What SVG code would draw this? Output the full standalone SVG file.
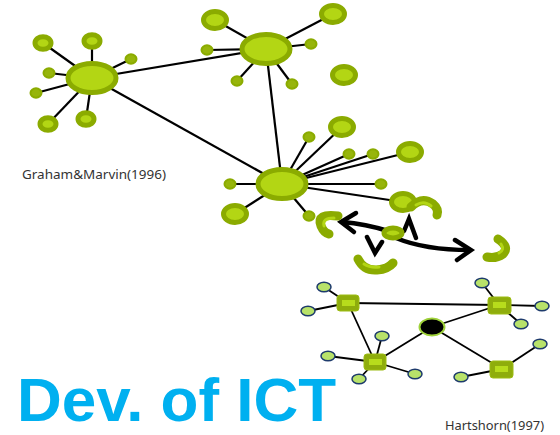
<svg xmlns="http://www.w3.org/2000/svg" width="560" height="435" viewBox="0 0 560 435">
  <defs>
    <style>
      .edge { stroke: #000; stroke-width: 2.2; fill: none; }
      .hedge { stroke: #000; stroke-width: 1.8; fill: none; }
      .hub { fill: #b3d614; stroke: #8bab00; stroke-width: 5; }
      .ring { fill: #b3d614; stroke: #8bab00; stroke-width: 5; }
      .dot { fill: #97b50b; stroke: #8bab00; stroke-width: 2; }
      .arc-o { fill: none; stroke: #8bab00; stroke-width: 9; stroke-linecap: round; stroke-linejoin: round; }
      .arc-i { fill: none; stroke: #b3d614; stroke-width: 3; stroke-linecap: round; }
      .jump { fill: none; stroke: #000; stroke-width: 4.5; stroke-linecap: round; stroke-linejoin: miter; }
      .sq { fill: #8fad0c; stroke: #9cbc12; stroke-width: 1; }
      .sq-in { fill: #b7dc1c; }
      .leaf { fill: #b8e26a; stroke: #1d3a6c; stroke-width: 1.5; }
      .core { fill: #000; stroke: #9fd23a; stroke-width: 2; }
      .cap { font-family: "Noto Sans", "Open Sans", sans-serif; font-size: 12.5px; fill: #333; }
      .title { font-family: "Liberation Sans", Arial, sans-serif; font-weight: bold; font-size: 62px; fill: #00b0f0; }
    </style>
  </defs>

  <!-- connectors -->
  <g id="connectors">
    <!-- hub to hub -->
    <line class="edge" x1="92" y1="78" x2="266" y2="49"/>
    <line class="edge" x1="92" y1="78" x2="282" y2="184"/>
    <line class="edge" x1="266" y1="49" x2="282" y2="184"/>
    <!-- left hub spokes -->
    <line class="edge" x1="92" y1="78" x2="43" y2="43"/>
    <line class="edge" x1="92" y1="78" x2="92" y2="41"/>
    <line class="edge" x1="92" y1="78" x2="131" y2="59"/>
    <line class="edge" x1="92" y1="78" x2="49" y2="73"/>
    <line class="edge" x1="92" y1="78" x2="36" y2="93"/>
    <line class="edge" x1="92" y1="78" x2="48" y2="124"/>
    <line class="edge" x1="92" y1="78" x2="86" y2="119"/>
    <!-- top hub spokes -->
    <line class="edge" x1="266" y1="49" x2="215" y2="20"/>
    <line class="edge" x1="266" y1="49" x2="333" y2="14"/>
    <line class="edge" x1="266" y1="49" x2="207" y2="50"/>
    <line class="edge" x1="266" y1="49" x2="311" y2="44"/>
    <line class="edge" x1="266" y1="49" x2="237" y2="81"/>
    <line class="edge" x1="266" y1="49" x2="292" y2="84"/>
    <!-- lower hub spokes -->
    <line class="edge" x1="282" y1="184" x2="309" y2="137"/>
    <line class="edge" x1="282" y1="184" x2="342" y2="127"/>
    <line class="edge" x1="282" y1="184" x2="349" y2="154"/>
    <line class="edge" x1="282" y1="184" x2="373" y2="154"/>
    <line class="edge" x1="282" y1="184" x2="410" y2="152"/>
    <line class="edge" x1="282" y1="184" x2="230" y2="184"/>
    <line class="edge" x1="282" y1="184" x2="381" y2="184"/>
    <line class="edge" x1="282" y1="184" x2="235" y2="214"/>
    <line class="edge" x1="282" y1="184" x2="403" y2="202"/>
    <line class="edge" x1="282" y1="184" x2="309" y2="216"/>
    <!-- jumps -->
    <path class="jump" d="M388,231 Q366,224 342,222"/>
    <polyline class="jump" points="356,213 341,222 354,232"/>
    <path class="jump" d="M396,238 Q425,250 470,250"/>
    <polyline class="jump" points="455,240 471,250 457,260"/>
    <polyline class="jump" points="367,237 375,253 382,242"/>
    <polyline class="jump" points="404,231 409,219 416,238"/>
    <!-- hierarchy links -->
    <line class="hedge" x1="348" y1="303" x2="499" y2="305"/>
    <line class="hedge" x1="348" y1="303" x2="375" y2="362"/>
    <line class="hedge" x1="375" y1="362" x2="432" y2="327"/>
    <line class="hedge" x1="432" y1="327" x2="499" y2="305"/>
    <line class="hedge" x1="432" y1="327" x2="502" y2="369"/>
    <line class="hedge" x1="348" y1="303" x2="324" y2="287"/>
    <line class="hedge" x1="348" y1="303" x2="308" y2="311"/>
    <line class="hedge" x1="375" y1="362" x2="382" y2="336"/>
    <line class="hedge" x1="375" y1="362" x2="328" y2="356"/>
    <line class="hedge" x1="375" y1="362" x2="359" y2="379"/>
    <line class="hedge" x1="375" y1="362" x2="415" y2="374"/>
    <line class="hedge" x1="499" y1="305" x2="482" y2="283"/>
    <line class="hedge" x1="499" y1="305" x2="542" y2="306"/>
    <line class="hedge" x1="499" y1="305" x2="521" y2="324"/>
    <line class="hedge" x1="502" y1="369" x2="540" y2="344"/>
    <line class="hedge" x1="502" y1="369" x2="461" y2="377"/>
  </g>

  <!-- left cluster -->
  <g id="hub-left"><ellipse class="hub" cx="92" cy="78" rx="24" ry="14.5"/></g>
  <g id="n-l1"><ellipse class="ring" cx="43" cy="43" rx="8" ry="6.3"/></g>
  <g id="n-l2"><ellipse class="ring" cx="92" cy="41" rx="8" ry="6.3"/></g>
  <g id="n-l3"><ellipse class="dot" cx="131" cy="59" rx="5.5" ry="4.7"/></g>
  <g id="n-l4"><ellipse class="dot" cx="49" cy="73" rx="5.5" ry="4.7"/></g>
  <g id="n-l5"><ellipse class="dot" cx="36" cy="93" rx="5.5" ry="4.7"/></g>
  <g id="n-l6"><ellipse class="ring" cx="48" cy="124" rx="8" ry="6.3"/></g>
  <g id="n-l7"><ellipse class="ring" cx="86" cy="119" rx="8" ry="6.3"/></g>

  <!-- top cluster -->
  <g id="hub-top"><ellipse class="hub" cx="266" cy="49" rx="24" ry="14.5"/></g>
  <g id="n-t1"><ellipse class="ring" cx="215" cy="20" rx="11.5" ry="8.5"/></g>
  <g id="n-t2"><ellipse class="ring" cx="333" cy="14" rx="11.5" ry="8.5"/></g>
  <g id="n-t3"><ellipse class="dot" cx="207" cy="50" rx="5.5" ry="4.7"/></g>
  <g id="n-t4"><ellipse class="dot" cx="311" cy="44" rx="5.5" ry="4.7"/></g>
  <g id="n-t5"><ellipse class="dot" cx="237" cy="81" rx="5.5" ry="4.7"/></g>
  <g id="n-t6"><ellipse class="dot" cx="292" cy="84" rx="5.5" ry="4.7"/></g>
  <g id="n-t7"><ellipse class="ring" cx="344" cy="75" rx="11.5" ry="8.5"/></g>

  <!-- lower cluster -->
  <g id="hub-low"><ellipse class="hub" cx="282" cy="184" rx="24" ry="14.5"/></g>
  <g id="n-b1"><ellipse class="dot" cx="309" cy="137" rx="5.5" ry="4.7"/></g>
  <g id="n-b2"><ellipse class="ring" cx="342" cy="127" rx="11.5" ry="8.5"/></g>
  <g id="n-b3"><ellipse class="dot" cx="349" cy="154" rx="5.5" ry="4.7"/></g>
  <g id="n-b4"><ellipse class="dot" cx="373" cy="154" rx="5.5" ry="4.7"/></g>
  <g id="n-b5"><ellipse class="ring" cx="410" cy="152" rx="11.5" ry="8.5"/></g>
  <g id="n-b6"><ellipse class="dot" cx="230" cy="184" rx="5.5" ry="4.7"/></g>
  <g id="n-b7"><ellipse class="dot" cx="381" cy="184" rx="5.5" ry="4.7"/></g>
  <g id="n-b8"><ellipse class="ring" cx="235" cy="214" rx="11.5" ry="8.5"/></g>
  <g id="n-b9"><ellipse class="ring" cx="403" cy="202" rx="11.5" ry="8.5"/></g>
  <g id="n-b10"><ellipse class="dot" cx="309" cy="216" rx="5.5" ry="4.7"/></g>

  <!-- broken-off arcs -->
  <g id="arc-1"><path class="arc-o" d="M338,216 Q316,213 321,226 Q324,233 329,234"/><path class="arc-i" d="M334,218 Q322,218 324,226"/></g>
  <g id="arc-2"><path class="arc-o" d="M411,207 Q422,196 433,204 Q439,209 437,215"/><path class="arc-i" d="M416,205 Q424,200 431,206"/></g>
  <g id="arc-3"><path class="arc-o" d="M358,259 Q364,271 377,270 Q388,269 393,263"/><path class="arc-i" d="M364,264 Q370,268 379,267"/></g>
  <g id="arc-4"><path class="arc-o" d="M498,239 Q510,247 503,254 Q496,259 487,257"/><path class="arc-i" d="M501,244 Q505,250 499,253"/></g>
  <g id="n-mobile"><ellipse class="ring" cx="393" cy="233" rx="9" ry="5"/></g>

  <!-- hierarchy network -->
  <g id="sq-a"><rect class="sq" x="337" y="295" width="22" height="16" rx="3"/><rect class="sq-in" x="342" y="300" width="13" height="6"/></g>
  <g id="sq-b"><rect class="sq" x="364" y="354" width="22" height="16" rx="3"/><rect class="sq-in" x="369" y="359" width="13" height="6"/></g>
  <g id="sq-c"><rect class="sq" x="488" y="297" width="23" height="17" rx="3"/><rect class="sq-in" x="493" y="302" width="13" height="6"/></g>
  <g id="sq-d"><rect class="sq" x="490" y="361" width="23" height="17" rx="3"/><rect class="sq-in" x="495" y="366" width="13" height="6"/></g>
  <g id="core"><ellipse class="core" cx="432" cy="327" rx="12.5" ry="8.5"/></g>
  <g id="lf-1"><ellipse class="leaf" cx="324" cy="287" rx="7" ry="4.8"/></g>
  <g id="lf-2"><ellipse class="leaf" cx="308" cy="311" rx="7" ry="4.8"/></g>
  <g id="lf-3"><ellipse class="leaf" cx="382" cy="336" rx="7" ry="4.8"/></g>
  <g id="lf-4"><ellipse class="leaf" cx="328" cy="356" rx="7" ry="4.8"/></g>
  <g id="lf-5"><ellipse class="leaf" cx="359" cy="379" rx="7" ry="4.8"/></g>
  <g id="lf-6"><ellipse class="leaf" cx="415" cy="374" rx="7" ry="4.8"/></g>
  <g id="lf-7"><ellipse class="leaf" cx="482" cy="283" rx="7" ry="4.8"/></g>
  <g id="lf-8"><ellipse class="leaf" cx="542" cy="306" rx="7" ry="4.8"/></g>
  <g id="lf-9"><ellipse class="leaf" cx="521" cy="324" rx="7" ry="4.8"/></g>
  <g id="lf-10"><ellipse class="leaf" cx="540" cy="344" rx="7" ry="4.8"/></g>
  <g id="lf-11"><ellipse class="leaf" cx="461" cy="377" rx="7" ry="4.8"/></g>

  <!-- captions -->
  <text class="cap" x="22" y="179" textLength="144" lengthAdjust="spacingAndGlyphs">Graham&amp;Marvin(1996)</text>
  <text class="cap" x="445" y="430" textLength="99" lengthAdjust="spacingAndGlyphs">Hartshorn(1997)</text>
  <text class="title" x="17" y="421">Dev. of ICT</text>
</svg>
